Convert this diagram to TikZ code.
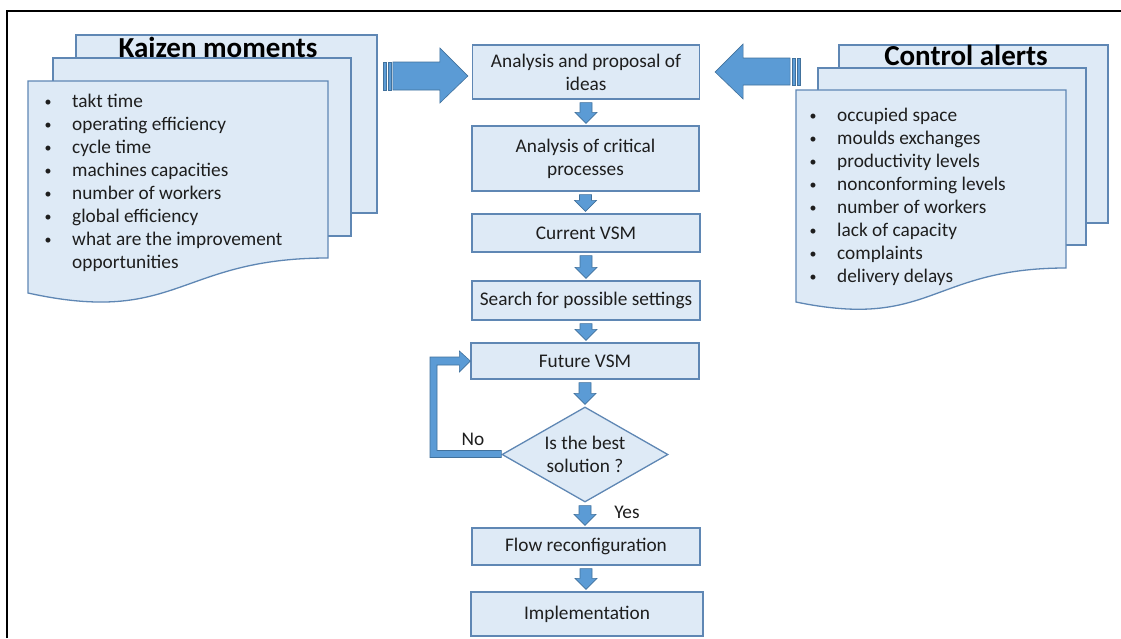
\documentclass[tikz,border=0pt]{standalone}
\usepackage{fontspec}
\setmainfont{Carlito}
\usetikzlibrary{shapes.geometric,calc}
\definecolor{boxfill}{RGB}{222,234,246}
\definecolor{boxline}{RGB}{95,135,180}
\definecolor{arrfill}{RGB}{91,155,213}
\definecolor{arrline}{RGB}{65,113,156}
\definecolor{txt}{RGB}{30,30,30}
\tikzset{
  sheet/.style={fill=boxfill,draw=boxline,line width=1.3pt},
  procbox/.style={sheet,rectangle,align=center,text=txt,inner sep=0pt,
    font=\fontsize{19.3}{23}\selectfont},
  decbox/.style={sheet,diamond,align=center,text=txt,inner sep=0pt,
    minimum width=166,minimum height=95,aspect=1.75,
    font=\fontsize{19.3}{23}\selectfont},
  blockarrow/.style={fill=arrfill,draw=arrline,line width=0.6pt},
  listtxt/.style={anchor=base west,text=txt,inner sep=0pt,
    font=\fontsize{19.3}{22}\selectfont},
  bullettxt/.style={anchor=base,text=txt,inner sep=0pt,
    font=\fontsize{14}{16}\selectfont},
  titletxt/.style={text=black,inner sep=0pt,font=\fontsize{29}{31}\selectfont\bfseries},
  lbl/.style={text=txt,inner sep=0pt,font=\fontsize{19.3}{22}\selectfont}
}
\newcommand\dnarrow[2]{%
  \path[blockarrow] let \p1=(#1.south), \p2=(#2.north) in
    (\x1-6pt,\y1-3pt) -- (\x1+6pt,\y1-3pt) -- (\x1+6pt,\y2+13pt) --
    (\x1+11pt,\y2+13pt) -- (\x1,\y2+2pt) -- (\x1-11pt,\y2+13pt) --
    (\x1-6pt,\y2+13pt) -- cycle;}
\begin{document}
\begin{tikzpicture}[x=1pt,y=-1pt]
\useasboundingbox (0,0) rectangle (1121,638);
\fill[white] (0,0) rectangle (1121,638);
% frame
\draw[line width=1.2pt] (7,638) -- (7,11) -- (1121,11);

% ---- Kaizen stack
\draw[sheet] (76,35) rectangle (377,213);
\draw[sheet] (53,58) rectangle (351,236);
\draw[sheet] (28,81) -- (328,81) -- (328,258)
  .. controls (178,258) and (178,326) .. (28,293) -- cycle;
\node[titletxt] (kt) at (218,47) {Kaizen moments};
\foreach \t [count=\i from 0] in {takt time,operating efficiency,cycle time,
  machines capacities,number of workers,global efficiency,
  what are the improvement}{
  \node[bullettxt] (kb\i) at (48,{106+23.1*\i}) {•};
  \node[listtxt] (kl\i) at (72,{107+23.1*\i}) {\t};
}
\node[listtxt] (kl7) at (72,{107+23.1*7}) {opportunities};

% ---- Control stack
\draw[sheet] (839,45) rectangle (1108,223);
\draw[sheet] (818,68) rectangle (1086,245);
\draw[sheet] (796,90) -- (1066,90) -- (1066,268)
  .. controls (931,268) and (931,330) .. (796,302) -- cycle;
\node[titletxt] (ct) at (966,55) {Control alerts};
\foreach \t [count=\i from 0] in {occupied space,moulds exchanges,productivity levels,
  nonconforming levels,number of workers,lack of capacity,complaints,delivery delays}{
  \node[bullettxt] (cb\i) at (813,{120+23.1*\i}) {•};
  \node[listtxt] (cl\i) at (837,{121+23.1*\i}) {\t};
}

% ---- Center flow
\node[procbox,minimum width=227,minimum height=54] (b1) at (586,72)
  {Analysis and proposal of\\ideas};
\node[procbox,minimum width=227,minimum height=65] (b2) at (585.5,158.5)
  {Analysis of critical\\processes};
\node[procbox,minimum width=228,minimum height=38] (b3) at (586,233) {Current VSM};
\node[procbox,minimum width=228,minimum height=39] (b4) at (586,300.5)
  {Search for possible settings};
\node[procbox,minimum width=228,minimum height=36] (b5) at (585,361) {Future VSM};
\node[decbox] (d) at (585,454.5) {Is the best\\solution ?};
\node[procbox,minimum width=228,minimum height=37] (b7) at (586,546.5)
  {Flow reconfiguration};
\node[procbox,minimum width=232,minimum height=44] (b8) at (587,614) {Implementation};

\dnarrow{b1}{b2}
\dnarrow{b2}{b3}
\dnarrow{b3}{b4}
\dnarrow{b4}{b5}
\dnarrow{b5}{d}
\dnarrow{d}{b7}
\dnarrow{b7}{b8}

\node[lbl] (yes) at (627,512) {Yes};
\node[lbl] (no) at (473,439) {No};

% feedback bent arrow
\coordinate (fs) at (d.west);
\coordinate (ft) at (b5.west);
\path[blockarrow] let \p1=(fs), \p2=(ft) in
  (\x1,\y1+4pt) -- (\x1,\y1-3pt) -- (430,\y1-3pt) -- (430,\y2+4pt) --
  (\x2-11pt,\y2+4pt) -- (\x2-11pt,\y2+10pt) -- (\x2,\y2) --
  (\x2-11pt,\y2-11pt) -- (\x2-11pt,\y2-4pt) -- (437,\y2-4pt) --
  (437,\y1+4pt) -- cycle;

% big left arrow (striped, pointing right)
\coordinate (lt) at ($(b1.west)+(-4,4)$);
\path[blockarrow] ($(lt)+(-75,-14)$) -- ($(lt)+(-28,-14)$) -- ($(lt)+(-28,-28)$) --
  (lt) -- ($(lt)+(-28,27)$) -- ($(lt)+(-28,14)$) -- ($(lt)+(-75,14)$) -- cycle;
\path[blockarrow] ($(lt)+(-80,-14)$) rectangle ($(lt)+(-77,14)$);
\path[blockarrow] ($(lt)+(-85,-14)$) rectangle ($(lt)+(-82,14)$);

% big right arrow (striped, pointing left)
\coordinate (rt) at ($(b1.east)+(15,0)$);
\path[blockarrow] ($(rt)+(75,-14)$) -- ($(rt)+(28,-14)$) -- ($(rt)+(28,-28)$) --
  (rt) -- ($(rt)+(28,27)$) -- ($(rt)+(28,13)$) -- ($(rt)+(75,13)$) -- cycle;
\path[blockarrow] ($(rt)+(77,-14)$) rectangle ($(rt)+(80,13)$);
\path[blockarrow] ($(rt)+(82,-14)$) rectangle ($(rt)+(85,13)$);
\end{tikzpicture}
\end{document}
